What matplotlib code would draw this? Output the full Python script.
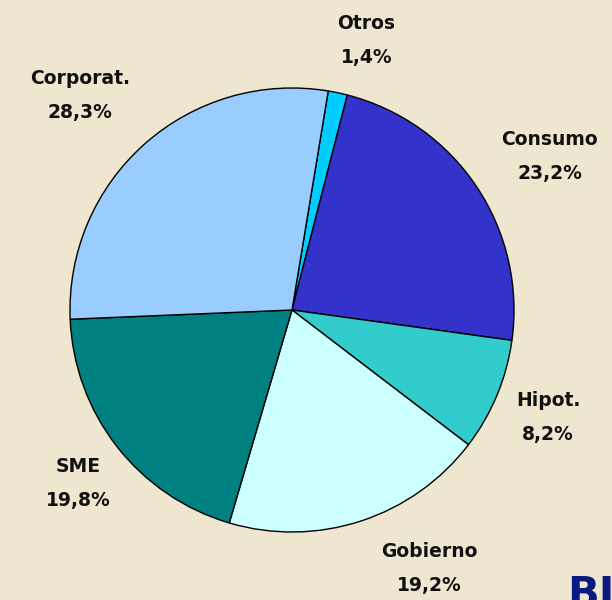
import matplotlib.pyplot as plt
import numpy as np

# cartera por segmento (%)
labels = ['Otros', 'Consumo', 'Hipot.', 'Gobierno', 'SME', 'Corporat.']
values = [1.4, 23.2, 8.2, 19.2, 19.8, 28.3]
pct_text = ['1,4%', '23,2%', '8,2%', '19,2%', '19,8%', '28,3%']
colors = ['#00CCFF', '#3333CC', '#33CCCC', '#CCFFFF', '#008080', '#99CCFF']

bg = '#EFE6D0'

fig = plt.figure(figsize=(6.12, 6.0), dpi=100, facecolor=bg)
ax = fig.add_axes([70 / 612, 68 / 600, 444 / 612, 444 / 600])
ax.set_facecolor(bg)

wedges, _ = ax.pie(values, colors=colors, startangle=80.6, counterclock=False,
                   radius=1.0, wedgeprops=dict(edgecolor='black', linewidth=1.0),
                   normalize=True)
ax.set_xlim(-1, 1)
ax.set_ylim(-1, 1)
ax.set_aspect('equal')
ax.axis('off')

# label placement (radius, angle in degrees) around the pie
lab_r = [1.26, 1.35, 1.25, 1.32, 1.24, 1.36]
lab_ang = [74.6, 30.7, -22.7, -62.0, -141.0, 134.7]

for name, pt, r, a in zip(labels, pct_text, lab_r, lab_ang):
    x = r * np.cos(np.radians(a))
    y = r * np.sin(np.radians(a))
    ax.text(x, y, name + '\n' + pt, ha='center', va='center',
            fontsize=13.5, fontweight='bold', color='#111111',
            linespacing=2.0, clip_on=False)

fig.text(567 / 612, 1 - 574 / 600, 'BI', ha='left', va='top', fontsize=30,
         fontweight='bold', color='#0A1A80')

fig.savefig('out.png', facecolor=bg)
